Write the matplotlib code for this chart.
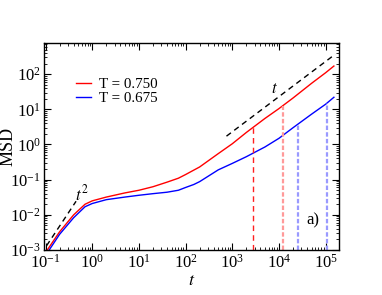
import numpy as np
import matplotlib
matplotlib.use("Agg")
import matplotlib.pyplot as plt
from matplotlib.ticker import LogLocator, NullFormatter

plt.rcParams['font.family'] = ['Liberation Serif', 'DejaVu Serif']
plt.rcParams['mathtext.fontset'] = 'stix'

# MSD curves
t_hot = [0.1, 0.2, 0.4, 0.7, 1, 2, 5, 10, 20, 40, 70, 100, 200, 500, 1000, 2000, 5000,
         1e4, 2e4, 5e4, 1e5, 1.5e5]
msd_hot = [8.5e-4, 3.3e-3, 0.010, 0.020, 0.025, 0.032, 0.042, 0.050, 0.063, 0.085,
           0.11, 0.14, 0.23, 0.55, 1.05, 2.2, 5.5, 10.5, 21, 55, 110, 170]

t_cold = [0.1, 0.2, 0.4, 0.7, 1, 2, 5, 10, 20, 40, 70, 100, 150, 200, 500, 1000, 2000,
          5000, 1e4, 2e4, 5e4, 1e5, 1.5e5]
msd_cold = [7e-4, 2.8e-3, 0.0083, 0.017, 0.021, 0.027, 0.032, 0.036, 0.040, 0.044,
            0.050, 0.060, 0.073, 0.088, 0.19, 0.29, 0.45, 0.85, 1.5, 3.0, 7.3, 14, 22]

# guide lines
t_ball = [0.105, 0.45]
c_ball = 0.12
t_diff = [750, 1.6e5]
c_diff = 0.0023

# marked times
marks_hot = [2800, 12000]
marks_cold = [25000, 105000]


def msd_at(t, ts, ms):
    return 10 ** np.interp(np.log10(t), np.log10(ts), np.log10(ms))


fig = plt.figure(figsize=(3.82, 2.95), dpi=100)
ax = fig.add_axes([0.116, 0.1525, 0.772, 0.7005])

ax.plot(t_hot, msd_hot, color='#ff0000', lw=1.0, label='T = 0.750')
ax.plot(t_cold, msd_cold, color='#0000ff', lw=1.0, label='T = 0.675')

tb = np.array(t_ball)
ax.plot(tb, c_ball * tb ** 2, color='black', lw=1.0, ls=(0, (4, 3)))
td = np.array(t_diff)
ax.plot(td, c_diff * td, color='black', lw=1.0, ls=(0, (4, 3)))

ax.vlines(marks_hot[0], 1e-3, msd_at(marks_hot[0], t_hot, msd_hot),
          color='#ff2020', lw=1.0, ls=(0, (4, 3)))
ax.vlines(marks_hot[1], 1e-3, msd_at(marks_hot[1], t_hot, msd_hot),
          color='#ff9a9a', lw=1.6, ls=(0, (2, 1)))
for tm in marks_cold:
    ax.vlines(tm, 1e-3, msd_at(tm, t_cold, msd_cold),
              color='#9a9aff', lw=1.6, ls=(0, (2, 1)))

ax.text(0.43, 0.026, r'$t^2$', fontsize=12, ha='left', va='baseline')
ax.text(6.9e3, 30, r'$t$', fontsize=12, ha='left', va='baseline')
ax.text(5.4e4, 7.1e-3, 'a)', fontsize=12, ha='center', va='center')

ax.set_xscale('log')
ax.set_yscale('log')
ax.set_xlim(0.094, 1.95e5)
ax.set_ylim(1e-3, 750)

for axis in (ax.xaxis, ax.yaxis):
    axis.set_major_locator(LogLocator(base=10, numticks=20))
    axis.set_minor_locator(LogLocator(base=10, subs=np.arange(2, 10), numticks=100))
    axis.set_minor_formatter(NullFormatter())

ax.tick_params(which='both', direction='in', top=True, right=True, labelsize=12)
ax.tick_params(which='major', length=5, width=0.8, pad=2.5)
ax.tick_params(which='minor', length=2.5, width=0.6)
for s in ax.spines.values():
    s.set_linewidth(1.0)

ax.set_xlabel(r'$t$', fontsize=13, va='center')
ax.xaxis.set_label_coords(0.5, -0.148)
ax.set_ylabel('MSD', fontsize=13, va='center')
ax.yaxis.set_label_coords(-0.122, 0.5)

ax.legend(loc='upper left', bbox_to_anchor=(0.108, 0.835), frameon=False,
          fontsize=10.8, handlelength=1.0, handletextpad=0.5, labelspacing=0.05,
          borderpad=0, borderaxespad=0)

fig.savefig('out.png', dpi=100)
